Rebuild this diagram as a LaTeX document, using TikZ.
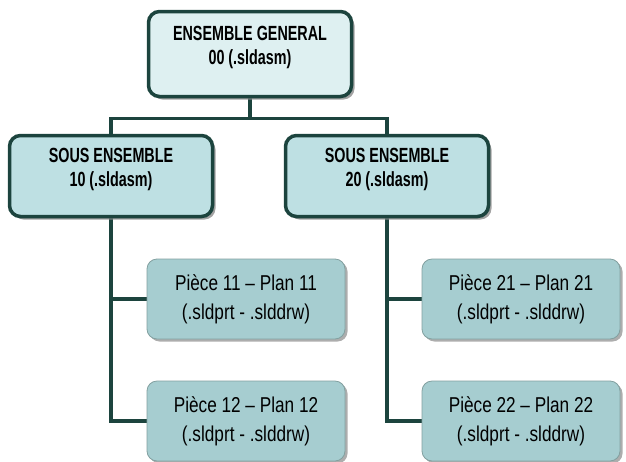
\documentclass[tikz,border=0pt]{standalone}
\usepackage{fontspec}
\setmainfont{Liberation Sans}[FakeStretch=0.8]
\newfontfamily\narrowfont{Liberation Sans}[FakeStretch=0.7]
\usetikzlibrary{shadows,backgrounds}
\definecolor{topfill}{RGB}{222,240,241}
\definecolor{subfill}{RGB}{190,224,227}
\definecolor{leaffill}{RGB}{166,205,208}
\definecolor{dark}{RGB}{28,68,62}
\definecolor{leafline}{RGB}{130,160,160}
\tikzset{
  mainbox/.style={draw=dark, line width=3.5pt, rounded corners=11pt, minimum width=203pt,
    align=center, font=\narrowfont\bfseries\fontsize{20.5}{24}\selectfont, text depth=18pt,
    drop shadow={shadow xshift=3pt, shadow yshift=-3pt, fill=black!45, opacity=0.8}},
  leafbox/.style={draw=leafline, line width=0.8pt, rounded corners=10pt, fill=leaffill,
    minimum width=198pt, minimum height=80pt, align=center, font=\fontsize{21.5}{29}\selectfont,
    drop shadow={shadow xshift=2.5pt, shadow yshift=-2.5pt, fill=black!40, opacity=0.8}},
  conn/.style={draw=dark, line width=3.4pt}
}
\begin{document}
\begin{tikzpicture}[x=1pt,y=-1pt]
\useasboundingbox (0,0) rectangle (626,461);
\node[mainbox, fill=topfill, minimum height=85pt] (top) at (250,54) {ENSEMBLE GENERAL\\00 (.sldasm)};
\node[mainbox, fill=subfill, minimum height=81pt] (s1) at (111,176) {SOUS ENSEMBLE\\10 (.sldasm)};
\node[mainbox, fill=subfill, minimum height=81pt] (s2) at (387,176) {SOUS ENSEMBLE\\20 (.sldasm)};
\node[leafbox] (l1) at (246,299) {Pièce 11 – Plan 11\\(.sldprt - .slddrw)};
\node[leafbox] (l2) at (246,421) {Pièce 12 – Plan 12\\(.sldprt - .slddrw)};
\node[leafbox] (r1) at (521,299) {Pièce 21 – Plan 21\\(.sldprt - .slddrw)};
\node[leafbox] (r2) at (521,421) {Pièce 22 – Plan 22\\(.sldprt - .slddrw)};
\begin{scope}[on background layer]
\draw[conn] (top.south) -- ++(0,20) coordinate (j);
\draw[conn] (j) -| (s1.north);
\draw[conn] (j) -| (s2.north);
\draw[conn] (s1.south) |- (l2.west);
\draw[conn] (s1.south |- l1.west) -- (l1.west);
\draw[conn] (s2.south) |- (r2.west);
\draw[conn] (s2.south |- r1.west) -- (r1.west);
\end{scope}
\end{tikzpicture}
\end{document}
